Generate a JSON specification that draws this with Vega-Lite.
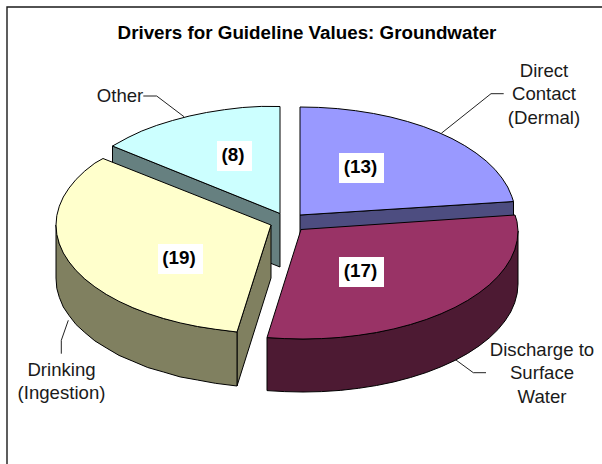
{"$schema":"https://vega.github.io/schema/vega-lite/v6.json","width":602,"height":464,"padding":0,"autosize":{"type":"none"},"background":"white","view":{"stroke":null},
"title":{"text":"Drivers for Guideline Values: Groundwater","orient":"top","anchor":"middle","frame":"group","dx":6,"offset":-52,"baseline":"middle","font":"Liberation Sans","fontSize":18.8,"fontWeight":"bold","color":"#000000"},
"datasets":{
"faces":[
{"shape":"Other side","i":0,"x":112.5,"y":146},{"shape":"Other side","i":1,"x":280,"y":213.5},{"shape":"Other side","i":2,"x":280,"y":267},{"shape":"Other side","i":3,"x":112.5,"y":200},{"shape":"Other side","i":4,"x":112.5,"y":146},
{"shape":"Other top","i":0,"x":280,"y":213.5},{"shape":"Other top","i":1,"x":280,"y":106.5},{"shape":"Other top","i":2,"x":242.7,"y":107.5},{"shape":"Other top","i":3,"x":206.5,"y":112.5},{"shape":"Other top","i":4,"x":172.5,"y":120.5},{"shape":"Other top","i":5,"x":141.8,"y":131},{"shape":"Other top","i":6,"x":112.5,"y":146},{"shape":"Other top","i":7,"x":280,"y":213.5},
{"shape":"Other top","i":1.5,"x":261.3,"y":106.4},{"shape":"Other top","i":2.5,"x":224.4,"y":109.7},{"shape":"Other top","i":3.5,"x":189.1,"y":116.1},{"shape":"Other top","i":4.5,"x":156.7,"y":125.4},{"shape":"Other top","i":5.5,"x":128,"y":137.5},
{"shape":"Dermal side","i":0,"x":300,"y":215},{"shape":"Dermal side","i":1,"x":513.5,"y":201.5},{"shape":"Dermal side","i":2,"x":513.5,"y":220},{"shape":"Dermal side","i":3,"x":300,"y":236},{"shape":"Dermal side","i":4,"x":300,"y":215},
{"shape":"Dermal top","i":0,"x":300,"y":215},{"shape":"Dermal top","i":1,"x":300,"y":107},{"shape":"Dermal top","i":2,"x":337.3,"y":108.6},{"shape":"Dermal top","i":3,"x":373.5,"y":113.5},{"shape":"Dermal top","i":4,"x":407.5,"y":121.5},{"shape":"Dermal top","i":5,"x":438.2,"y":132.3},{"shape":"Dermal top","i":6,"x":464.7,"y":145.6},{"shape":"Dermal top","i":7,"x":486.2,"y":161},{"shape":"Dermal top","i":8,"x":502,"y":178.1},{"shape":"Dermal top","i":9,"x":511.7,"y":196.2},{"shape":"Dermal top","i":10,"x":513.5,"y":201.5},{"shape":"Dermal top","i":11,"x":300,"y":215},
{"shape":"Dermal top","i":1.5,"x":318.7,"y":107.4},{"shape":"Dermal top","i":2.5,"x":355.6,"y":110.7},{"shape":"Dermal top","i":3.5,"x":390.9,"y":117.1},{"shape":"Dermal top","i":4.5,"x":423.3,"y":126.5},{"shape":"Dermal top","i":5.5,"x":452,"y":138.6},{"shape":"Dermal top","i":6.5,"x":476.1,"y":153.1},{"shape":"Dermal top","i":7.5,"x":494.9,"y":169.4},{"shape":"Dermal top","i":8.5,"x":507.7,"y":187},
{"shape":"Drinking cut","i":0,"x":271,"y":225},{"shape":"Drinking cut","i":1,"x":271,"y":278},{"shape":"Drinking cut","i":2,"x":237,"y":386},{"shape":"Drinking cut","i":3,"x":237,"y":332},{"shape":"Drinking cut","i":4,"x":271,"y":225},
{"shape":"Drinking side","i":0,"x":56,"y":225},{"shape":"Drinking side","i":1,"x":59.3,"y":243.8},{"shape":"Drinking side","i":2,"x":69,"y":261.9},{"shape":"Drinking side","i":3,"x":84.8,"y":279},{"shape":"Drinking side","i":4,"x":106.3,"y":294.4},{"shape":"Drinking side","i":5,"x":132.8,"y":307.7},{"shape":"Drinking side","i":6,"x":163.5,"y":318.5},{"shape":"Drinking side","i":7,"x":197.5,"y":326.5},{"shape":"Drinking side","i":8,"x":237,"y":332},{"shape":"Drinking side","i":9,"x":237,"y":386},{"shape":"Drinking side","i":10,"x":197.5,"y":380},{"shape":"Drinking side","i":11,"x":163.5,"y":372},{"shape":"Drinking side","i":12,"x":132.8,"y":361.2},{"shape":"Drinking side","i":13,"x":106.3,"y":347.9},{"shape":"Drinking side","i":14,"x":84.8,"y":332.5},{"shape":"Drinking side","i":15,"x":69,"y":315.4},{"shape":"Drinking side","i":16,"x":59.3,"y":297.3},{"shape":"Drinking side","i":17,"x":56,"y":278},{"shape":"Drinking side","i":18,"x":56,"y":225},
{"shape":"Drinking side","i":9.5,"x":215.4,"y":383.3},{"shape":"Drinking side","i":10.5,"x":180.1,"y":376.9},{"shape":"Drinking side","i":11.5,"x":147.7,"y":367.5},{"shape":"Drinking side","i":12.5,"x":119,"y":355.4},{"shape":"Drinking side","i":13.5,"x":94.9,"y":340.9},{"shape":"Drinking side","i":14.5,"x":76.1,"y":324.6},{"shape":"Drinking side","i":15.5,"x":63.3,"y":307},{"shape":"Drinking side","i":16.5,"x":56.8,"y":288.4},
{"shape":"Drinking top","i":0,"x":271,"y":225},{"shape":"Drinking top","i":1,"x":103,"y":158.5},{"shape":"Drinking top","i":2,"x":84.8,"y":171},{"shape":"Drinking top","i":3,"x":69,"y":188.1},{"shape":"Drinking top","i":4,"x":59.3,"y":206.2},{"shape":"Drinking top","i":5,"x":56,"y":225},{"shape":"Drinking top","i":6,"x":59.3,"y":243.8},{"shape":"Drinking top","i":7,"x":69,"y":261.9},{"shape":"Drinking top","i":8,"x":84.8,"y":279},{"shape":"Drinking top","i":9,"x":106.3,"y":294.4},{"shape":"Drinking top","i":10,"x":132.8,"y":307.7},{"shape":"Drinking top","i":11,"x":163.5,"y":318.5},{"shape":"Drinking top","i":12,"x":197.5,"y":326.5},{"shape":"Drinking top","i":13,"x":237,"y":332},{"shape":"Drinking top","i":14,"x":271,"y":225},
{"shape":"Drinking top","i":1.5,"x":94.9,"y":163.1},{"shape":"Drinking top","i":2.5,"x":76.1,"y":179.4},{"shape":"Drinking top","i":3.5,"x":63.3,"y":197},{"shape":"Drinking top","i":4.5,"x":56.8,"y":215.6},{"shape":"Drinking top","i":5.5,"x":56.8,"y":234.4},{"shape":"Drinking top","i":6.5,"x":63.3,"y":253},{"shape":"Drinking top","i":7.5,"x":76.1,"y":270.6},{"shape":"Drinking top","i":8.5,"x":94.9,"y":286.9},{"shape":"Drinking top","i":9.5,"x":119,"y":301.4},{"shape":"Drinking top","i":10.5,"x":147.7,"y":313.5},{"shape":"Drinking top","i":11.5,"x":180.1,"y":322.9},{"shape":"Drinking top","i":12.5,"x":215.4,"y":329.3},
{"shape":"Discharge side","i":0,"x":518,"y":231},{"shape":"Discharge side","i":1,"x":514.7,"y":249.8},{"shape":"Discharge side","i":2,"x":505,"y":267.9},{"shape":"Discharge side","i":3,"x":489.2,"y":285},{"shape":"Discharge side","i":4,"x":467.7,"y":300.4},{"shape":"Discharge side","i":5,"x":441.2,"y":313.7},{"shape":"Discharge side","i":6,"x":410.5,"y":324.5},{"shape":"Discharge side","i":7,"x":376.5,"y":332.5},{"shape":"Discharge side","i":8,"x":340.3,"y":337.4},{"shape":"Discharge side","i":9,"x":303,"y":339},{"shape":"Discharge side","i":10,"x":267,"y":337.6},{"shape":"Discharge side","i":11,"x":267,"y":390.6},{"shape":"Discharge side","i":12,"x":303,"y":392},{"shape":"Discharge side","i":13,"x":340.3,"y":390.4},{"shape":"Discharge side","i":14,"x":376.5,"y":385.5},{"shape":"Discharge side","i":15,"x":410.5,"y":377.5},{"shape":"Discharge side","i":16,"x":441.2,"y":366.7},{"shape":"Discharge side","i":17,"x":467.7,"y":353.4},{"shape":"Discharge side","i":18,"x":489.2,"y":338},{"shape":"Discharge side","i":19,"x":505,"y":320.9},{"shape":"Discharge side","i":20,"x":514.7,"y":302.8},{"shape":"Discharge side","i":21,"x":518,"y":284},{"shape":"Discharge side","i":22,"x":518,"y":231},
{"shape":"Discharge side","i":11.5,"x":284.3,"y":391.6},{"shape":"Discharge side","i":12.5,"x":321.7,"y":391.6},{"shape":"Discharge side","i":13.5,"x":358.6,"y":388.3},{"shape":"Discharge side","i":14.5,"x":393.9,"y":381.9},{"shape":"Discharge side","i":15.5,"x":426.3,"y":372.5},{"shape":"Discharge side","i":16.5,"x":455,"y":360.4},{"shape":"Discharge side","i":17.5,"x":479.1,"y":345.9},{"shape":"Discharge side","i":18.5,"x":497.9,"y":329.6},{"shape":"Discharge side","i":19.5,"x":510.7,"y":312},{"shape":"Discharge side","i":20.5,"x":517.2,"y":293.4},
{"shape":"Discharge top","i":0,"x":301,"y":229.5},{"shape":"Discharge top","i":1,"x":515,"y":215},{"shape":"Discharge top","i":2,"x":517,"y":221.6},{"shape":"Discharge top","i":3,"x":518,"y":231},{"shape":"Discharge top","i":4,"x":514.7,"y":249.8},{"shape":"Discharge top","i":5,"x":505,"y":267.9},{"shape":"Discharge top","i":6,"x":489.2,"y":285},{"shape":"Discharge top","i":7,"x":467.7,"y":300.4},{"shape":"Discharge top","i":8,"x":441.2,"y":313.7},{"shape":"Discharge top","i":9,"x":410.5,"y":324.5},{"shape":"Discharge top","i":10,"x":376.5,"y":332.5},{"shape":"Discharge top","i":11,"x":340.3,"y":337.4},{"shape":"Discharge top","i":12,"x":303,"y":339},{"shape":"Discharge top","i":13,"x":267,"y":337.6},{"shape":"Discharge top","i":14,"x":301,"y":229.5},
{"shape":"Discharge top","i":3.5,"x":517.2,"y":240.4},{"shape":"Discharge top","i":4.5,"x":510.7,"y":259},{"shape":"Discharge top","i":5.5,"x":497.9,"y":276.6},{"shape":"Discharge top","i":6.5,"x":479.1,"y":292.9},{"shape":"Discharge top","i":7.5,"x":455,"y":307.4},{"shape":"Discharge top","i":8.5,"x":426.3,"y":319.5},{"shape":"Discharge top","i":9.5,"x":393.9,"y":328.9},{"shape":"Discharge top","i":10.5,"x":358.6,"y":335.3},{"shape":"Discharge top","i":11.5,"x":321.7,"y":338.6},{"shape":"Discharge top","i":12.5,"x":284.3,"y":338.6}
],
"leaders":[
{"to":"Other","i":0,"x":143.3,"y":96},{"to":"Other","i":1,"x":156.7,"y":96},{"to":"Other","i":2,"x":184,"y":116.7},
{"to":"Direct","i":0,"x":441.3,"y":133.3},{"to":"Direct","i":1,"x":491,"y":93.7},{"to":"Direct","i":2,"x":503.7,"y":93.7},
{"to":"Drinking","i":0,"x":68.3,"y":320.3},{"to":"Drinking","i":1,"x":61.3,"y":340.3},{"to":"Drinking","i":2,"x":61.3,"y":353.7},
{"to":"Discharge","i":0,"x":455,"y":359.3},{"to":"Discharge","i":1,"x":473.3,"y":372.7},{"to":"Discharge","i":2,"x":486,"y":372.7}
],
"frame":[{"i":0,"x":7,"y":464},{"i":1,"x":7,"y":7},{"i":2,"x":602,"y":7}],
"values":[
{"driver":"Direct Contact (Dermal)","value":13,"label":"(13)","x":339,"x2":384,"y":153,"y2":183,"cx":360.5,"cy":167},
{"driver":"Discharge to Surface Water","value":17,"label":"(17)","x":339,"x2":384,"y":257,"y2":287,"cx":360.5,"cy":271},
{"driver":"Drinking (Ingestion)","value":19,"label":"(19)","x":158,"x2":203,"y":244,"y2":274,"cx":179,"cy":258},
{"driver":"Other","value":8,"label":"(8)","x":217,"x2":252,"y":141,"y2":171,"cx":233,"cy":155}
],
"names":[
{"text":"Other","x":120,"y":96},
{"text":"Direct\nContact\n(Dermal)","x":544,"y":71},
{"text":"Drinking\n(Ingestion)","x":61.5,"y":370},
{"text":"Discharge to\nSurface\nWater","x":542,"y":350}
]
},
"data":{"name":"faces"},
"encoding":{
"x":{"field":"x","type":"quantitative","axis":null,"scale":{"domain":[0,602],"nice":false,"zero":false}},
"y":{"field":"y","type":"quantitative","axis":null,"scale":{"domain":[464,0],"nice":false,"zero":false}}
},
"layer":[
{"data":{"name":"frame"},"mark":{"type":"line","stroke":"#1a1a1a","strokeWidth":1.4},"encoding":{"order":{"field":"i","type":"quantitative"}}},
{"data":{"name":"faces"},"mark":{"type":"line","stroke":"#000000","strokeWidth":1,"strokeJoin":"round"},"encoding":{
"order":{"field":"i","type":"quantitative"},
"fill":{"field":"shape","type":"nominal","legend":null,"sort":null,"scale":{"domain":["Other side","Other top","Dermal side","Dermal top","Drinking cut","Drinking side","Drinking top","Discharge side","Discharge top"],"range":["#668080","#ccffff","#4d4d80","#9999ff","#808060","#808060","#ffffcc","#4d1a33","#993366"]}},
"detail":{"field":"shape","type":"nominal"}}},
{"data":{"name":"leaders"},"mark":{"type":"line","stroke":"#222222","strokeWidth":1},"encoding":{"detail":{"field":"to","type":"nominal"},"order":{"field":"i","type":"quantitative"}}},
{"data":{"name":"values"},"mark":{"type":"rect","fill":"#ffffff"},"encoding":{"x2":{"field":"x2"},"y2":{"field":"y2"}}},
{"data":{"name":"values"},"mark":{"type":"text","font":"Liberation Sans","fontSize":18.8,"fontWeight":"bold","color":"#000000","align":"center","baseline":"middle"},"encoding":{"x":{"field":"cx","type":"quantitative"},"y":{"field":"cy","type":"quantitative"},"text":{"field":"label"}}},
{"data":{"name":"names"},"mark":{"type":"text","font":"Liberation Sans","fontSize":18.6,"color":"#1a1a1a","align":"center","baseline":"middle","lineBreak":"\n","lineHeight":23.3},"encoding":{"text":{"field":"text"}}}
]
}
